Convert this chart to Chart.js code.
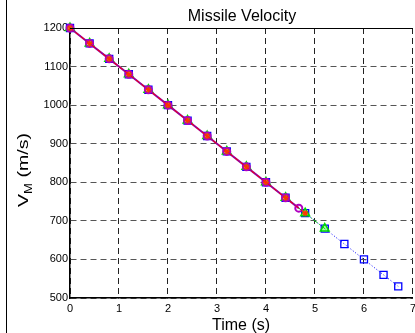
<!DOCTYPE html>
<html>
<head>
<meta charset="utf-8">
<script src="https://cdn.jsdelivr.net/npm/chart.js@4"></script>
<style>
  html, body { margin: 0; padding: 0; background: #fff; overflow: hidden; }
  #wrap { width: 415px; height: 333px; overflow: hidden; }
</style>
</head>
<body>
<div id="wrap"><canvas id="velocityChart" width="420" height="333"></canvas></div>
<script>
// Axis ticks
const timeTicks = [0, 1, 2, 3, 4, 5, 6, 7];
const velTicks = [500, 600, 700, 800, 900, 1000, 1100, 1200];

// Blue squares (dotted)
const blueTime = [0, 0.4, 0.8, 1.2, 1.6, 2.0, 2.4, 2.8, 3.2, 3.6, 4.0, 4.4, 4.8, 5.2, 5.6, 6.0, 6.4, 6.7];
const blueVel = [1200, 1160, 1120, 1080, 1040, 1000, 960, 920, 880, 840, 800, 760, 720, 680, 640, 600, 560, 530];

// Green triangles
const greenTime = [0, 0.4, 0.8, 1.2, 1.6, 2.0, 2.4, 2.8, 3.2, 3.6, 4.0, 4.4, 4.8, 5.2];
const greenVel = [1200, 1160, 1120, 1080, 1040, 1000, 960, 920, 880, 840, 800, 760, 720, 680];

// Red stars
const redTime = [0, 0.4, 0.8, 1.2, 1.6, 2.0, 2.4, 2.8, 3.2, 3.6, 4.0, 4.4, 4.8];
const redVel = [1200, 1160, 1120, 1080, 1040, 1000, 960, 920, 880, 840, 800, 760, 720];

// Magenta circles
const magentaTime = [0, 0.4, 0.8, 1.2, 1.6, 2.0, 2.4, 2.8, 3.2, 3.6, 4.0, 4.4, 4.67];
const magentaVel = [1200, 1160, 1120, 1080, 1040, 1000, 960, 920, 880, 840, 800, 760, 733];

const toPoints = (xs, ys) => xs.map((x, i) => ({ x: x, y: ys[i] }));

// Title, axis titles, frame lines
const decorations = {
  id: 'decorations',
  afterDraw(chart) {
    const { ctx, chartArea: a } = chart;
    ctx.save();
    ctx.strokeStyle = '#000';
    ctx.lineWidth = 1;
    ctx.beginPath();
    ctx.moveTo(a.left, a.top + 0.5);
    ctx.lineTo(a.right, a.top + 0.5);
    ctx.stroke();
    ctx.beginPath();
    ctx.moveTo(6.5, 0);
    ctx.lineTo(6.5, 333);
    ctx.stroke();

    ctx.fillStyle = '#000';
    ctx.textBaseline = 'alphabetic';
    ctx.textAlign = 'center';
    ctx.font = '16px "Liberation Sans", Arial, sans-serif';
    ctx.fillText('Missile Velocity', 242, 21);
    ctx.fillText('Time (s)', 241, 330);

    // y axis title with subscript
    const big = '15px "Liberation Sans", Arial, sans-serif';
    const small = '10px "Liberation Sans", Arial, sans-serif';
    ctx.textAlign = 'left';
    ctx.font = big;
    const wV = ctx.measureText('V').width;
    const wRest = ctx.measureText(' (m/s)').width;
    ctx.font = small;
    const wM = ctx.measureText('M').width;
    const total = wV + wM + wRest;
    const target = 74;
    ctx.translate(28, 170);
    ctx.rotate(-Math.PI / 2);
    ctx.scale(target / total, 1);
    let x = -total / 2;
    ctx.font = big;
    ctx.fillText('V', x, 0);
    x += wV;
    ctx.font = small;
    ctx.fillText('M', x, 4);
    x += wM;
    ctx.font = big;
    ctx.fillText(' (m/s)', x, 0);
    ctx.restore();
  }
};

const tickFont = { family: '"Liberation Sans", Arial, sans-serif', size: 11 };

new Chart(document.getElementById('velocityChart').getContext('2d'), {
  type: 'scatter',
  data: {
    datasets: [
      {
        label: 'red',
        data: toPoints(redTime, redVel),
        showLine: true,
        clip: false,
        borderColor: '#ff0000',
        borderWidth: 1,
        borderDash: [4, 3],
        pointStyle: 'star',
        pointRadius: 3,
        pointBorderWidth: 1.2,
        pointBorderColor: '#ff3300',
        pointBackgroundColor: '#ff3300',
        order: 0
      },
      {
        label: 'magenta',
        data: toPoints(magentaTime, magentaVel),
        showLine: true,
        clip: false,
        borderColor: '#990099',
        borderWidth: 2,
        pointStyle: 'circle',
        pointRadius: 3.5,
        pointBorderWidth: 2,
        pointBorderColor: '#b000c0',
        pointBackgroundColor: 'rgba(0,0,0,0)',
        order: 1
      },
      {
        label: 'green',
        data: toPoints(greenTime, greenVel),
        showLine: true,
        clip: false,
        borderColor: '#00cc00',
        borderWidth: 1,
        borderDash: [5, 2, 1, 2],
        pointStyle: 'triangle',
        pointRadius: 5,
        pointBorderWidth: 1.5,
        pointBorderColor: '#00dd00',
        pointBackgroundColor: 'rgba(0,255,0,0.35)',
        order: 2
      },
      {
        label: 'blue',
        data: toPoints(blueTime, blueVel),
        showLine: true,
        clip: false,
        borderColor: '#0000ff',
        borderWidth: 1,
        borderDash: [1, 2],
        pointStyle: 'rect',
        pointRadius: 5,
        pointBorderWidth: 1.3,
        pointBorderColor: '#0000ff',
        pointBackgroundColor: 'rgba(0,0,0,0)',
        order: 3
      }
    ]
  },
  options: {
    responsive: false,
    animation: false,
    devicePixelRatio: 1,
    layout: { padding: { left: 0, top: 28, right: 4, bottom: 0 } },
    plugins: {
      legend: { display: false },
      tooltip: { enabled: false }
    },
    scales: {
      x: {
        type: 'linear',
        min: 0,
        max: 7,
        afterBuildTicks: s => { s.ticks = timeTicks.map(v => ({ value: v })); },
        afterFit: s => { s.height = 35; },
        grid: { color: '#222', lineWidth: 1, tickLength: 0 },
        border: { color: '#000', width: 1.5, dash: [6, 4] },
        ticks: {
          color: '#000',
          padding: 4,
          maxRotation: 0,
          font: tickFont,
          callback: v => String(v)
        }
      },
      y: {
        type: 'linear',
        min: 500,
        max: 1200,
        afterBuildTicks: s => { s.ticks = velTicks.map(v => ({ value: v })); },
        afterFit: s => { s.width = 70; },
        grid: { color: '#555', lineWidth: 1, tickLength: 0 },
        border: { color: '#000', width: 1.5, dash: [6, 4] },
        ticks: {
          color: '#000',
          padding: 2,
          font: tickFont,
          callback: v => String(v)
        }
      }
    }
  },
  plugins: [decorations]
});
</script>
</body>
</html>
